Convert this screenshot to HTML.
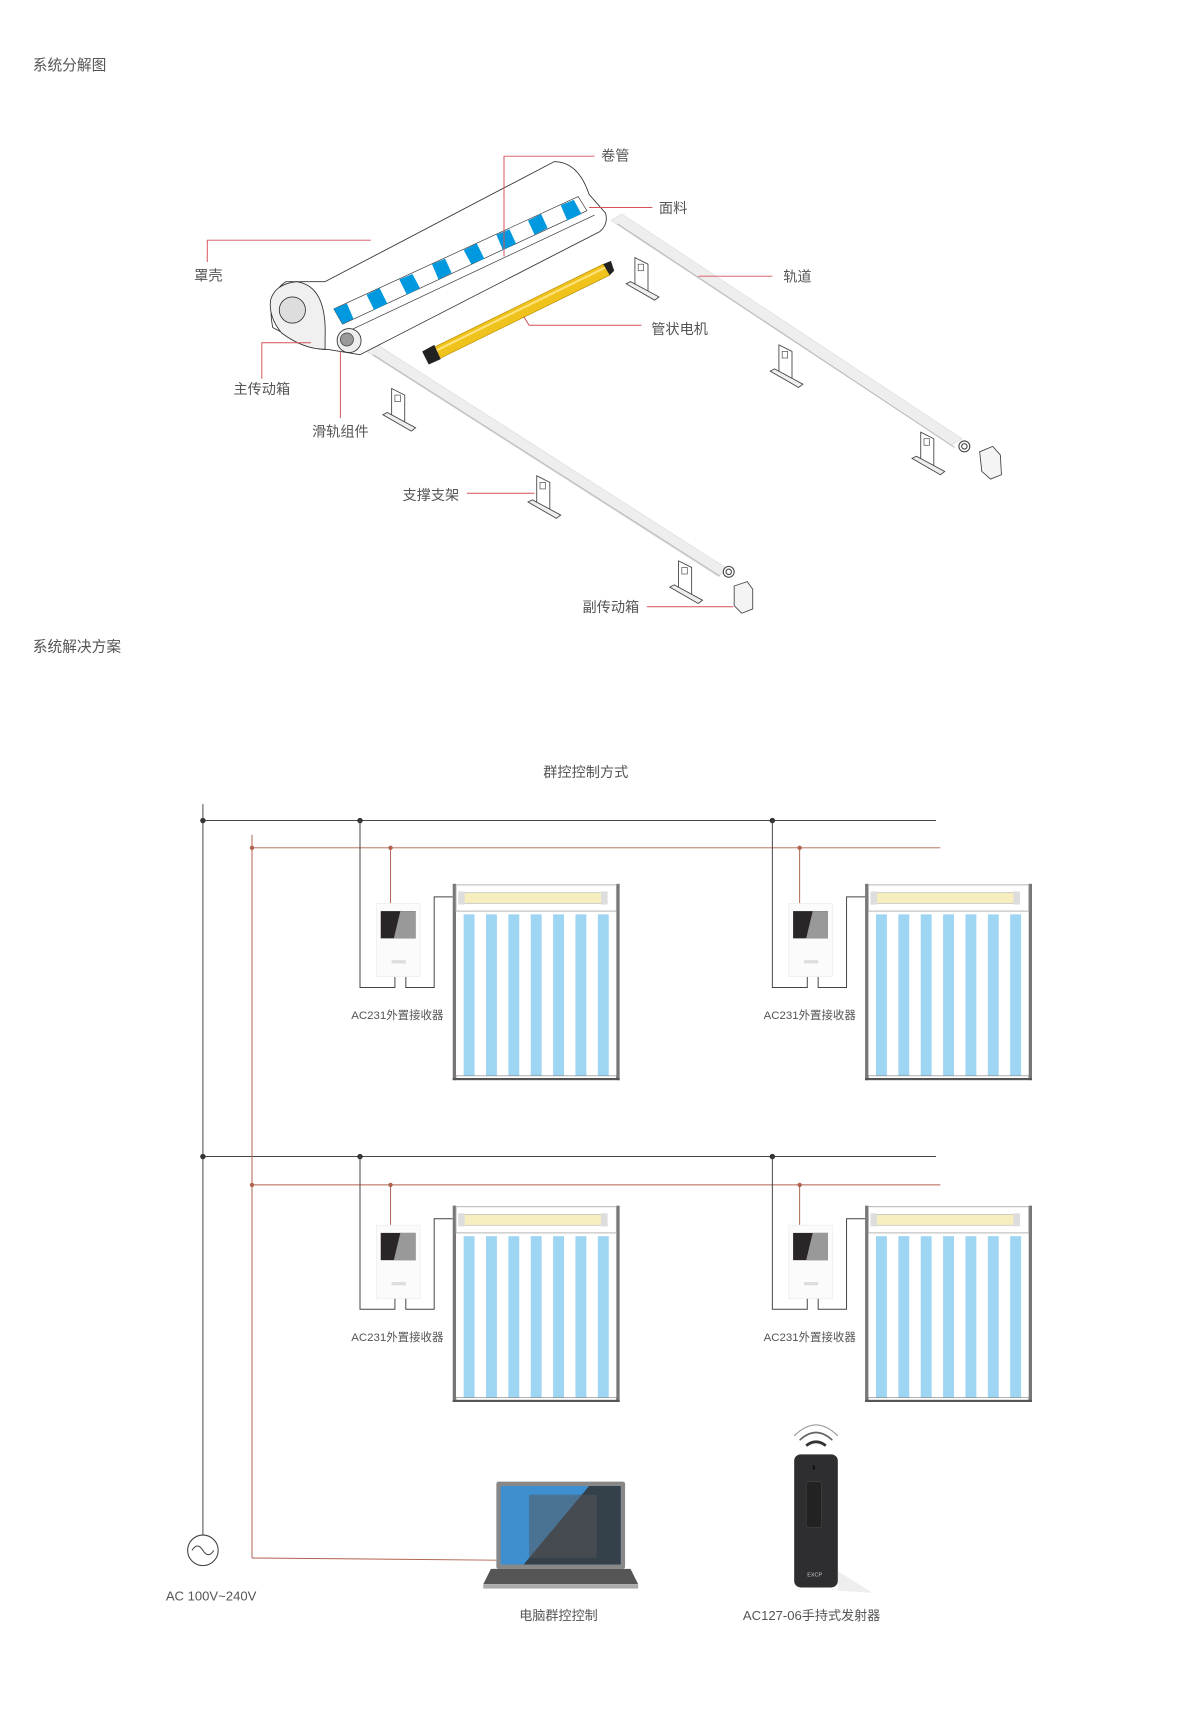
<!DOCTYPE html>
<html><head><meta charset="utf-8"><style>
html,body{margin:0;padding:0;background:#fff}
svg{display:block}
text{font-family:"Liberation Sans","Noto Sans CJK SC",sans-serif;fill:#555}
</style></head><body>
<svg width="1200" height="1712" viewBox="0 0 1100 1569" xmlns="http://www.w3.org/2000/svg">
<defs>
<g id="br">
<path d="M-6,-14 L6,-8 L6,18 L-6,12 Z" fill="#fff" stroke="#444" stroke-width="0.8"/>
<rect x="-3" y="-8" width="5" height="6" fill="none" stroke="#444" stroke-width="0.6"/>
<path d="M-14,10 L-10,8 L16,22 L12,25 Z" fill="#eee" stroke="#444" stroke-width="0.8"/>
</g>
<g id="blind">
<rect x="0" y="0" width="153" height="180" fill="#fff"/>
<rect x="0" y="0" width="3" height="180" fill="#777"/>
<rect x="150" y="0" width="3" height="180" fill="#777"/>
<rect x="3" y="1" width="147" height="24" fill="#fff" stroke="#aaa" stroke-width="0.8"/>
<rect x="8" y="8" width="130" height="10" fill="#f7eec0" stroke="#bbb" stroke-width="0.6"/>
<rect x="5" y="7" width="6" height="12" fill="#ddd"/>
<rect x="136" y="7" width="6" height="12" fill="#ddd"/>
<g fill="#9ed5f3">
<rect x="10" y="28" width="10" height="148"/><rect x="30.5" y="28" width="10" height="148"/>
<rect x="51" y="28" width="10" height="148"/><rect x="71.5" y="28" width="10" height="148"/>
<rect x="92" y="28" width="10" height="148"/><rect x="112.5" y="28" width="10" height="148"/>
<rect x="133" y="28" width="10" height="148"/>
</g>
<rect x="3" y="176" width="147" height="3" fill="#fff" stroke="#888" stroke-width="0.6"/>
<rect x="0" y="178" width="153" height="2" fill="#555"/>
</g>
<g id="rcv">
<rect x="0" y="0" width="40" height="67" fill="#fbfbfb" stroke="#eee" stroke-width="0.8"/>
<rect x="4" y="7" width="32" height="25" fill="#2a2627"/>
<path d="M22,7 L36,7 L36,32 L16,32 Z" fill="#999"/>
<rect x="14" y="52" width="13" height="3" fill="#ddd"/>
</g>
</defs>

<text x="30" y="64" font-size="13.5">系统分解图</text>
<text x="30" y="597" font-size="13.5">系统解决方案</text>

<!-- rails -->
<path d="M336,322 L346,316 L668,522 L658,528 Z" fill="#eee" stroke="#ddd" stroke-width="0.6"/>
<line x1="342" y1="325" x2="660" y2="528" stroke="#bbb" stroke-width="1"/>
<path d="M560,202 L570,196 L882,402 L872,408 Z" fill="#eee" stroke="#ddd" stroke-width="0.6"/>
<line x1="566" y1="205" x2="875" y2="410" stroke="#bbb" stroke-width="1"/>
<use href="#br" x="588" y="250"/><use href="#br" x="720" y="330"/><use href="#br" x="850" y="410"/>
<use href="#br" x="365" y="370"/><use href="#br" x="498" y="450"/><use href="#br" x="628" y="528"/>
<circle cx="668" cy="524" r="5" fill="#fff" stroke="#444"/><circle cx="668" cy="524" r="2.5" fill="none" stroke="#444"/>
<path d="M673,537 L685,533 L690,540 L690,558 L680,562 L673,555 Z" fill="#f4f4f4" stroke="#444" stroke-width="0.8"/>
<circle cx="884" cy="409" r="5" fill="#fff" stroke="#444"/><circle cx="884" cy="409" r="2.5" fill="none" stroke="#444"/>
<path d="M898,414 L910,409 L917,417 L918,435 L908,439 L900,432 Z" fill="#f4f4f4" stroke="#444" stroke-width="0.8"/>

<!-- housing -->
<path d="M298,258 L508,148 Q530,148 540,178 L555,195 Q558,205 550,212 L330,325 L300,320 Q290,322 250,300 Q244,270 262,258 Z" fill="#fff" stroke="#333" stroke-width="0.8"/>
<path d="M272,258 Q300,262 298,310 L298,320 Q278,320 258,305 Q246,290 248,275 Q252,260 272,258 Z" fill="#f0f0f0" stroke="#333" stroke-width="0.8"/>
<circle cx="268" cy="284" r="12" fill="#ddd" stroke="#333" stroke-width="0.8"/>
<path d="M306,283 L530,180 L538,193 L314,297 Z" fill="#fff" stroke="#333" stroke-width="0.6"/>
<g fill="#0098de">
<path d="M306,283 L318,278 L324,292 L314,297 Z"/><path d="M336,270 L348,264 L355,278 L343,284 Z"/>
<path d="M366,256 L378,251 L385,264 L373,270 Z"/><path d="M396,242 L408,237 L414,250 L402,256 Z"/>
<path d="M425,229 L437,223 L444,237 L432,242 Z"/><path d="M455,215 L467,210 L473,223 L461,229 Z"/>
<path d="M484,202 L496,196 L502,209 L490,215 Z"/><path d="M514,188 L526,183 L533,196 L520,202 Z"/>
</g>
<line x1="318" y1="304" x2="545" y2="197" stroke="#333" stroke-width="0.6"/>
<circle cx="320" cy="312" r="11" fill="#eee" stroke="#333" stroke-width="0.8"/>
<circle cx="318" cy="311" r="6" fill="#999" stroke="#333" stroke-width="0.6"/>
<!-- motor -->
<path d="M390,322 L553,242 L559,252 L396,332 Z" fill="#f0c21c" stroke="#b48a00" stroke-width="0.6"/>
<line x1="392" y1="325" x2="555" y2="245" stroke="#ffe27a" stroke-width="2"/>
<path d="M387,322 L398,316 L404,329 L393,334 Z" fill="#222"/>
<path d="M553,242 L560,239 L563,248 L559,252 Z" fill="#222"/>

<!-- labels top -->
<g stroke="#d4535a" stroke-width="0.9" fill="none">
<polyline points="462,235 462,143 545,143"/>
<line x1="540" y1="190" x2="598" y2="190"/>
<polyline points="190,240 190,220 340,220"/>
<line x1="640" y1="253" x2="708" y2="253"/>
<polyline points="480,290 485,298 588,298"/>
<polyline points="240,347 240,314 285,314"/>
<line x1="312" y1="322" x2="312" y2="383"/>
<line x1="428" y1="452" x2="490" y2="452"/>
<line x1="593" y1="556" x2="672" y2="556"/>
</g>
<g font-size="13">
<text x="551" y="147">卷管</text>
<text x="604" y="195">面料</text>
<text x="178" y="257">罩壳</text>
<text x="718" y="258">轨道</text>
<text x="597" y="306">管状电机</text>
<text x="214" y="361">主传动箱</text>
<text x="286" y="400">滑轨组件</text>
<text x="369" y="458">支撑支架</text>
<text x="534" y="561">副传动箱</text>
</g>

<!-- bottom diagram -->
<text x="498" y="712" font-size="13">群控控制方式</text>
<g stroke="#444" stroke-width="0.9" fill="none">
<line x1="186" y1="737" x2="186" y2="1407"/>
<line x1="186" y1="752" x2="858" y2="752"/>
<line x1="186" y1="1060" x2="858" y2="1060"/>
</g>
<g stroke="#b0624f" stroke-width="0.9" fill="none">
<line x1="231" y1="765" x2="231" y2="1428"/>
<line x1="231" y1="777" x2="862" y2="777"/>
<line x1="231" y1="1086" x2="862" y2="1086"/>
<polyline points="231,1428 455,1430"/>
</g>
<g fill="#333">
<circle cx="186" cy="752" r="2.5"/><circle cx="186" cy="1060" r="2.5"/>
<circle cx="330" cy="752" r="2.5"/><circle cx="708" cy="752" r="2.5"/>
<circle cx="330" cy="1060" r="2.5"/><circle cx="708" cy="1060" r="2.5"/>
</g>
<g fill="#b0624f">
<circle cx="231" cy="777" r="2"/><circle cx="231" cy="1086" r="2"/>
<circle cx="358" cy="777" r="2"/><circle cx="733" cy="777" r="2"/>
<circle cx="358" cy="1086" r="2"/><circle cx="733" cy="1086" r="2"/>
</g>

<!-- unit template applied 4 times -->
<g transform="translate(0,0)">
<polyline points="330,752 330,905 362,905 362,895" fill="none" stroke="#444" stroke-width="0.9"/>
<polyline points="372,895 372,905 398,905 398,822 415,822" fill="none" stroke="#444" stroke-width="0.9"/>
<line x1="358" y1="777" x2="358" y2="828" stroke="#b0624f" stroke-width="0.9"/>
<use href="#rcv" x="345" y="828"/><use href="#blind" x="415" y="810"/>
<text x="322" y="934" font-size="10.5">AC231外置接收器</text>
</g>
<g transform="translate(378,0)">
<polyline points="330,752 330,905 362,905 362,895" fill="none" stroke="#444" stroke-width="0.9"/>
<polyline points="372,895 372,905 398,905 398,822 415,822" fill="none" stroke="#444" stroke-width="0.9"/>
<line x1="355" y1="777" x2="355" y2="828" stroke="#b0624f" stroke-width="0.9"/>
<use href="#rcv" x="345" y="828"/><use href="#blind" x="415" y="810"/>
<text x="322" y="934" font-size="10.5">AC231外置接收器</text>
</g>
<g transform="translate(0,295)">
<polyline points="330,765 330,905 362,905 362,895" fill="none" stroke="#444" stroke-width="0.9"/>
<polyline points="372,895 372,905 398,905 398,822 415,822" fill="none" stroke="#444" stroke-width="0.9"/>
<line x1="358" y1="791" x2="358" y2="828" stroke="#b0624f" stroke-width="0.9"/>
<use href="#rcv" x="345" y="828"/><use href="#blind" x="415" y="810"/>
<text x="322" y="934" font-size="10.5">AC231外置接收器</text>
</g>
<g transform="translate(378,295)">
<polyline points="330,765 330,905 362,905 362,895" fill="none" stroke="#444" stroke-width="0.9"/>
<polyline points="372,895 372,905 398,905 398,822 415,822" fill="none" stroke="#444" stroke-width="0.9"/>
<line x1="355" y1="791" x2="355" y2="828" stroke="#b0624f" stroke-width="0.9"/>
<use href="#rcv" x="345" y="828"/><use href="#blind" x="415" y="810"/>
<text x="322" y="934" font-size="10.5">AC231外置接收器</text>
</g>

<!-- AC -->
<circle cx="186" cy="1421" r="14" fill="#fff" stroke="#444" stroke-width="1"/>
<path d="M176,1421 Q181,1413 186,1421 Q191,1429 196,1421" fill="none" stroke="#444" stroke-width="1"/>
<text x="152" y="1467" font-size="12">AC 100V~240V</text>

<!-- laptop -->
<rect x="455" y="1358" width="118" height="80" rx="2" fill="#888"/>
<rect x="459" y="1362" width="110" height="72" fill="#3d8fd0"/>
<path d="M540,1362 L569,1362 L569,1434 L480,1434 Z" fill="#333" opacity="0.85"/>
<rect x="485" y="1370" width="62" height="58" fill="#555" opacity="0.5"/>
<path d="M450,1438 L578,1438 L585,1452 L443,1452 Z" fill="#555"/>
<rect x="443" y="1452" width="142" height="4" fill="#aaa"/>
<text x="476" y="1485" font-size="12">电脑群控控制</text>

<!-- remote -->
<path d="M728,1316 Q748,1296 768,1316" fill="none" stroke="#999" stroke-width="1"/>
<path d="M733,1320 Q748,1306 763,1320" fill="none" stroke="#666" stroke-width="1.5"/>
<path d="M739,1325 Q748,1318 757,1325" fill="none" stroke="#333" stroke-width="2.5"/>
<path d="M768,1440 L800,1460 L768,1458 Z" fill="#eee"/>
<rect x="728" y="1333" width="40" height="122" rx="6" fill="#2e2e30"/>
<rect x="739" y="1358" width="14" height="42" rx="2" fill="#222" stroke="#444" stroke-width="0.6"/>
<rect x="745" y="1343" width="2" height="4" fill="#111"/>
<text x="740" y="1445" font-size="5" style="fill:#ccc">EXCP</text>
<text x="681" y="1485" font-size="12">AC127-06手持式发射器</text>
</svg>
</body></html>
